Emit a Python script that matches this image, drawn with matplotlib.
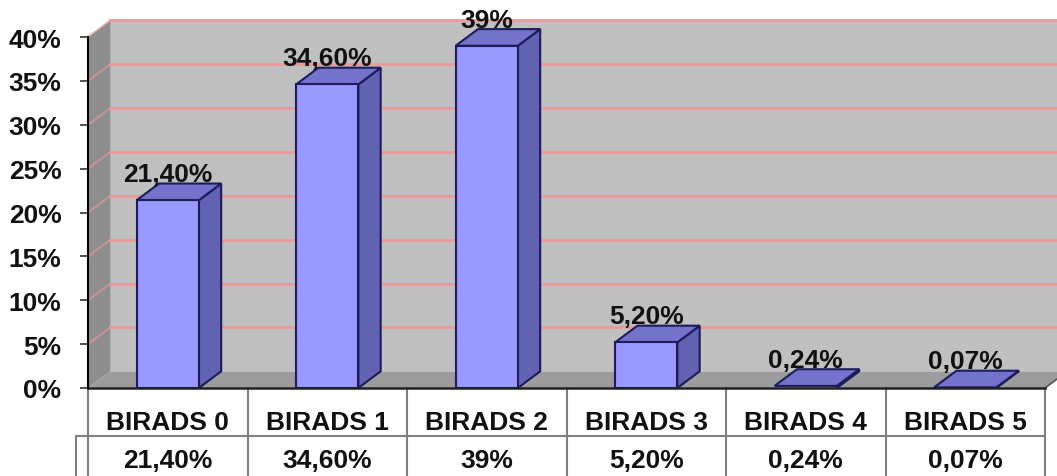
import matplotlib
matplotlib.use("Agg")
import matplotlib.pyplot as plt
import matplotlib.transforms as mtransforms
from matplotlib.patches import Polygon

# === data ===
categories = ["BIRADS 0", "BIRADS 1", "BIRADS 2", "BIRADS 3", "BIRADS 4", "BIRADS 5"]
values = [21.4, 34.6, 39.0, 5.2, 0.24, 0.07]
value_labels = ["21,40%", "34,60%", "39%", "5,20%", "0,24%", "0,07%"]
y_ticks = [0, 5, 10, 15, 20, 25, 30, 35, 40]
y_tick_labels = ["0%", "5%", "10%", "15%", "20%", "25%", "30%", "35%", "40%"]

# === style ===
plt.rcParams['font.family'] = ['Liberation Sans', 'DejaVu Sans']
W, H = 1057, 477
DX = 0.14      # depth offset (category units)
DY = 1.9       # depth offset (value units)
BAR_W = 0.39
FRONT = "#9999FF"
SIDE = "#6262B2"
TOP = "#7373CC"
EDGE = "#1C1C5A"
WALL = "#C0C0C0"
SIDE_WALL = "#8E8E8E"
FLOOR = "#9C9C9C"
GRID = "#E99A9A"
TABLE_LINE = "#808080"

fig = plt.figure(figsize=(W / 100, H / 100), dpi=100)
ax = fig.add_axes([88 / W, 1 - 389 / H, 957 / W, 351 / H])
n = len(categories)
ax.set_xlim(0, n)
ax.set_ylim(0, 40)
ax.patch.set_visible(False)
for s in ["top", "right", "bottom"]:
    ax.spines[s].set_visible(False)
ax.spines["left"].set_color("black")
ax.spines["left"].set_linewidth(1.5)
ax.spines["left"].set_zorder(6)

top = max(y_ticks)

# back wall, side wall, floor
ax.add_patch(Polygon([(DX, DY), (n + DX, DY), (n + DX, top + DY), (DX, top + DY)],
                     closed=True, fc=WALL, ec="none", zorder=1, clip_on=False))
ax.add_patch(Polygon([(0, 0), (DX, DY), (DX, top + DY), (0, top)],
                     closed=True, fc=SIDE_WALL, ec="none", zorder=1, clip_on=False))
ax.add_patch(Polygon([(0, 0), (n, 0), (n + DX, DY), (DX, DY)],
                     closed=True, fc=FLOOR, ec="none", zorder=1, clip_on=False))
for v in y_ticks[1:]:
    ax.plot([DX, n + DX], [v + DY, v + DY], color=GRID, lw=2, zorder=2, clip_on=False)
    ax.plot([0, DX], [v, v + DY], color=GRID, lw=1.5, alpha=0.6, zorder=2, clip_on=False)
ax.plot([n, n + DX], [0, DY], color="#555555", lw=1.2, zorder=2, clip_on=False)

# 3d bars
for i, v in enumerate(values):
    x1 = i + 0.5 - BAR_W / 2
    x2 = x1 + BAR_W
    ax.add_patch(Polygon([(x2, 0), (x2 + DX, DY), (x2 + DX, v + DY), (x2, v)],
                         closed=True, fc=SIDE, ec=EDGE, lw=1.5, zorder=3, clip_on=False))
    ax.add_patch(Polygon([(x1, v), (x2, v), (x2 + DX, v + DY), (x1 + DX, v + DY)],
                         closed=True, fc=TOP, ec=EDGE, lw=1.5, zorder=3, clip_on=False))
    if v > 0.5:
        ax.add_patch(Polygon([(x1, 0), (x2, 0), (x2, v), (x1, v)],
                             closed=True, fc=FRONT, ec=EDGE, lw=1.5, zorder=4, clip_on=False))
    ax.text(i + 0.5, v + DY - 0.3, value_labels[i], ha="center", va="bottom",
            fontsize=19, fontweight="bold", color="#111111", zorder=5, clip_on=False)

# axis
ax.set_xticks([])
ax.set_yticks(y_ticks)
ax.set_yticklabels(y_tick_labels, fontsize=19, fontweight="bold", color="#111111")
ax.tick_params(axis="y", direction="out", length=6, width=1.2, color="#333333", pad=13)

# data table below the plot
tr = mtransforms.blended_transform_factory(ax.transData, fig.transFigure)
def fy(px):
    return 1 - px / H

ax.plot([0, n], [fy(389), fy(389)], color="#222222", lw=1.8, transform=tr, clip_on=False, zorder=6)
for k in range(n + 1):
    ax.plot([k, k], [fy(389), fy(H)], color=TABLE_LINE, lw=1.5, transform=tr, clip_on=False)
x_left = -12 / 957 * n
ax.plot([x_left, n], [fy(437), fy(437)], color=TABLE_LINE, lw=1.5, transform=tr, clip_on=False)
ax.plot([x_left, x_left], [fy(437), fy(H)], color=TABLE_LINE, lw=1.5, transform=tr, clip_on=False)

for i, c in enumerate(categories):
    ax.text(i + 0.5, fy(423), c, ha="center", va="center", fontsize=19,
            fontweight="bold", color="#111111", transform=tr)
    ax.text(i + 0.5, fy(461), value_labels[i], ha="center", va="center", fontsize=19,
            fontweight="bold", color="#111111", transform=tr)

fig.savefig("out.png", dpi=100, facecolor="white")
